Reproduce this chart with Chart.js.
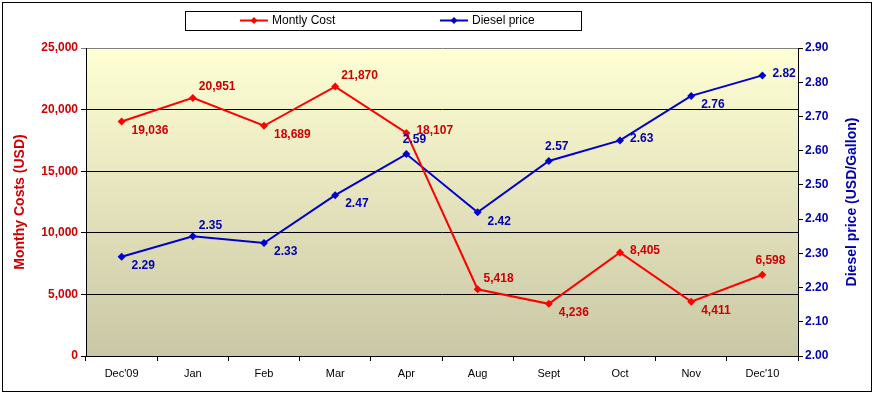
<!DOCTYPE html>
<html>
<head>
<meta charset="utf-8">
<script src="https://cdn.jsdelivr.net/npm/chart.js@4"></script>
<style>
  html, body { margin: 0; padding: 0; background: #ffffff; }
  #wrap { position: relative; width: 874px; height: 394px; }
</style>
</head>
<body>
<div id="wrap"><canvas id="costChart" width="874" height="394"></canvas></div>
<script>
// Data
const months = ["Dec'09", 'Jan', 'Feb', 'Mar', 'Apr', 'Aug', 'Sept', 'Oct', 'Nov', "Dec'10"];
const monthlyCost = [19036, 20951, 18689, 21870, 18107, 5418, 4236, 8405, 4411, 6598];
const dieselPrice = [2.29, 2.35, 2.33, 2.47, 2.59, 2.42, 2.57, 2.63, 2.76, 2.82];

// Where each value label sits relative to its point
const costLabelPlace = ['br', 'ar', 'br', 'ar', 'r', 'ar', 'br', 'r', 'br', 'a'];
const dieselLabelPlace = ['br', 'ar', 'br', 'br', 'a', 'br', 'a', 'r', 'br', 'r'];

const RED_LINE = '#FF0000';
const RED_TEXT = '#D00000';
const BLUE_LINE = '#0000CC';
const BLUE_TEXT = '#0000B0';
const FONT = 'Arial, "Liberation Sans", sans-serif';
const DIESEL_TITLE = 'Diesel price (USD/Gallon)';

/**
 * Plot area fill, outer frame, right axis title and legend box
 */
const frame = {
    id: 'frame',
    beforeDraw(chart) {
        const { ctx, chartArea: a } = chart;
        ctx.save();
        const g = ctx.createLinearGradient(0, a.top, 0, a.bottom);
        g.addColorStop(0, '#FFFFD4');
        g.addColorStop(1, '#C9C7A5');
        ctx.fillStyle = g;
        ctx.fillRect(a.left, a.top, a.right - a.left, a.bottom - a.top);
        ctx.restore();
    },
    afterDraw(chart) {
        const { ctx, chartArea: a } = chart;
        ctx.save();
        ctx.strokeStyle = '#000';
        ctx.lineWidth = 1;
        ctx.strokeRect(2.5, 2.5, 869, 389);

        // right axis title, reading bottom to top like the left one
        ctx.save();
        ctx.translate(852, (a.top + a.bottom) / 2);
        ctx.rotate(-Math.PI / 2);
        ctx.fillStyle = BLUE_TEXT;
        ctx.font = 'bold 14px ' + FONT;
        ctx.textAlign = 'center';
        ctx.textBaseline = 'middle';
        ctx.fillText(DIESEL_TITLE, 0, 0);
        ctx.restore();

        // legend
        ctx.fillStyle = '#fff';
        ctx.fillRect(185, 11, 397, 19);
        ctx.strokeRect(185.5, 11.5, 396, 19);
        const items = [
            { x: 240, ds: chart.data.datasets[0] },
            { x: 440, ds: chart.data.datasets[1] }
        ];
        items.forEach(it => {
            const y = 20.5;
            ctx.strokeStyle = it.ds.borderColor;
            ctx.lineWidth = 2;
            ctx.beginPath();
            ctx.moveTo(it.x, y);
            ctx.lineTo(it.x + 28, y);
            ctx.stroke();
            ctx.fillStyle = it.ds.borderColor;
            ctx.beginPath();
            ctx.moveTo(it.x + 14, y - 3.5);
            ctx.lineTo(it.x + 17.5, y);
            ctx.lineTo(it.x + 14, y + 3.5);
            ctx.lineTo(it.x + 10.5, y);
            ctx.closePath();
            ctx.fill();
            ctx.fillStyle = '#000';
            ctx.font = '12px ' + FONT;
            ctx.textAlign = 'left';
            ctx.textBaseline = 'middle';
            ctx.fillText(it.ds.label, it.x + 32, y);
        });
        ctx.restore();
    }
};

/**
 * Value labels next to each point
 */
const valueLabels = {
    id: 'valueLabels',
    afterDatasetsDraw(chart) {
        const { ctx } = chart;
        ctx.save();
        ctx.font = 'bold 12px ' + FONT;
        chart.data.datasets.forEach((ds, i) => {
            const meta = chart.getDatasetMeta(i);
            meta.data.forEach((pt, j) => {
                const v = ds.data[j];
                const text = ds.labelFormat(v);
                const place = ds.labelPlace[j];
                let x = pt.x, y = pt.y;
                ctx.textBaseline = 'middle';
                ctx.textAlign = 'left';
                if (place === 'r') { x += 10; y -= 2; }
                else if (place === 'br') { x += 10; y += 9; }
                else if (place === 'ar') { x += 6; y -= 11; }
                else if (place === 'a') { ctx.textAlign = 'center'; x += 8; y -= 14; }
                ctx.fillStyle = ds.textColor;
                ctx.fillText(text, x, y);
            });
        });
        ctx.restore();
    }
};

new Chart(document.getElementById('costChart'), {
    type: 'line',
    data: {
        labels: months,
        datasets: [
            {
                label: 'Montly Cost',
                data: monthlyCost,
                yAxisID: 'yCost',
                borderColor: RED_LINE,
                backgroundColor: RED_LINE,
                borderWidth: 2,
                pointStyle: 'rectRot',
                pointRadius: 4,
                pointBorderWidth: 0,
                tension: 0,
                textColor: RED_TEXT,
                labelPlace: costLabelPlace,
                labelFormat: v => v.toLocaleString('en-US')
            },
            {
                label: 'Diesel price',
                data: dieselPrice,
                yAxisID: 'yDiesel',
                borderColor: BLUE_LINE,
                backgroundColor: BLUE_LINE,
                borderWidth: 2,
                pointStyle: 'rectRot',
                pointRadius: 4,
                pointBorderWidth: 0,
                tension: 0,
                textColor: BLUE_TEXT,
                labelPlace: dieselLabelPlace,
                labelFormat: v => v.toFixed(2)
            }
        ]
    },
    options: {
        responsive: false,
        animation: false,
        layout: { padding: { top: 48, left: 0, right: 0, bottom: 0 } },
        plugins: {
            legend: { display: false },
            tooltip: { enabled: false }
        },
        scales: {
            x: {
                offset: true,
                grid: {
                    offset: true,
                    drawOnChartArea: false,
                    drawTicks: true,
                    tickLength: 5,
                    color: '#000'
                },
                border: { color: '#000', width: 1 },
                ticks: {
                    color: '#000',
                    padding: 6,
                    maxRotation: 0,
                    font: { family: FONT, size: 11 }
                },
                afterFit(scale) { scale.height = 38; }
            },
            yCost: {
                position: 'left',
                min: 0,
                max: 25000,
                ticks: {
                    stepSize: 5000,
                    color: RED_TEXT,
                    padding: 3,
                    font: { family: FONT, size: 12, weight: 'bold' },
                    callback: v => v.toLocaleString('en-US')
                },
                grid: {
                    color: ctx => (ctx.tick && ctx.tick.value === 25000) ? '#808080' : '#000',
                    tickLength: 5,
                    lineWidth: 1
                },
                border: { color: '#000', width: 1 },
                title: {
                    display: true,
                    text: 'Monthy Costs (USD)',
                    color: RED_TEXT,
                    padding: { top: 12, bottom: 0 },
                    font: { family: FONT, size: 14, weight: 'bold' }
                },
                afterFit(scale) { scale.width = 86; }
            },
            yDiesel: {
                position: 'right',
                min: 2.0,
                max: 2.9,
                ticks: {
                    stepSize: 0.1,
                    color: BLUE_TEXT,
                    padding: 2,
                    font: { family: FONT, size: 12, weight: 'bold' },
                    callback: v => v.toFixed(2)
                },
                grid: {
                    drawOnChartArea: false,
                    drawTicks: true,
                    tickLength: 5,
                    color: '#000'
                },
                border: { color: '#000', width: 1 },
                afterFit(scale) { scale.width = 76; }
            }
        }
    },
    plugins: [frame, valueLabels]
});
</script>
</body>
</html>
